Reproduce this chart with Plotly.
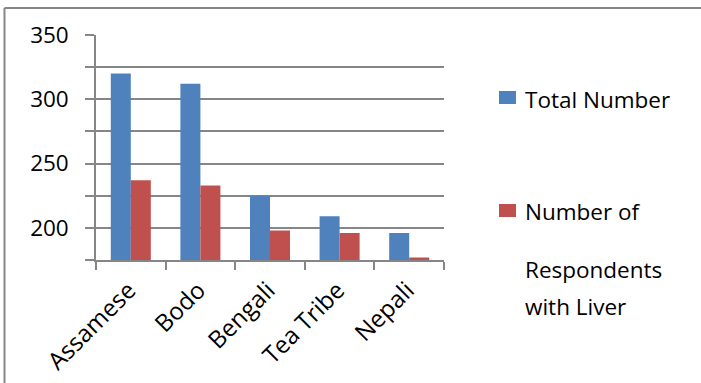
import plotly.graph_objects as go

# Survey groups and counts
groups = ["Assamese", "Bodo", "Bengali", "Tea Tribe", "Nepali"]
total_number = [320, 312, 225, 209, 196]
liver_respondents = [237, 233, 198, 196, 177]

series_names = ["Total Number", "Number of Respondents with Liver"]
series_colors = ["#4F81BD", "#C0504D"]

y_ticks = [175, 200, 225, 250, 275, 300, 325, 350]
y_tick_text = ["", "200", "", "250", "", "300", "", "350"]

W, H = 701, 383
L, R, T, B = 96, 257, 35, 123
PW, PH = W - L - R, H - T - B
GRID = "#868686"
FONT = "Open Sans"
FS = 22.5


def px(x, y):
    """Pixel position on the page -> paper coordinates."""
    return (x - L) / PW, (H - B - y) / PH


fig = go.Figure()
for name, vals, col in zip(series_names, [total_number, liver_respondents], series_colors):
    fig.add_trace(go.Bar(x=groups, y=vals, name=name, marker_color=col,
                         marker_line_width=0, showlegend=False))

fig.update_layout(
    width=W, height=H,
    margin=dict(l=L, r=R, t=T, b=B),
    paper_bgcolor="white", plot_bgcolor="white",
    barmode="group", bargap=0.425, bargroupgap=0,
    font=dict(family=FONT, size=FS, color="#000000"),
    xaxis=dict(
        type="category", tickangle=-45, tickson="boundaries",
        ticks="outside", ticklen=8, tickwidth=1.5, tickcolor=GRID,
        showline=True, linecolor=GRID, linewidth=1.5,
        showgrid=False, tickfont=dict(size=24), automargin=False,
        ticklabelshift=-2, ticklabelstandoff=5,
    ),
    yaxis=dict(
        range=[175, 350], tickmode="array", tickvals=y_ticks, ticktext=y_tick_text,
        ticks="outside", ticklen=9, tickwidth=1.5, tickcolor=GRID,
        showgrid=True, gridcolor=GRID, gridwidth=1.5,
        showline=True, linecolor=GRID, linewidth=1.5, automargin=False,
        zeroline=False, tickfont=dict(size=FS), ticklabelstandoff=12,
    ),
)

# Outer chart frame (top and left edges)
x0, y0 = px(4.5, 8)
x1, _ = px(W + 5, 8)
_, yb = px(4.5, H + 5)
fig.add_shape(type="line", xref="paper", yref="paper", x0=x0, y0=y0, x1=x1, y1=y0,
              line=dict(color=GRID, width=2))
fig.add_shape(type="line", xref="paper", yref="paper", x0=x0, y0=y0, x1=x0, y1=yb,
              line=dict(color=GRID, width=2))

# Legend: colour swatches and labels
swatches = [(499, 91, 516, 104), (499, 204, 516, 217)]
for (a, b, c, d), col in zip(swatches, series_colors):
    xa, ya = px(a, b)
    xc, yc = px(c, d)
    fig.add_shape(type="rect", xref="paper", yref="paper", x0=xa, y0=yc, x1=xc, y1=ya,
                  fillcolor=col, line_width=0)

legend_lines = [("Total Number", 99), ("Number of", 211),
                ("Respondents", 269), ("with Liver", 306)]
for text, yc in legend_lines:
    ax, ay = px(523, yc)
    fig.add_annotation(text=text, xref="paper", yref="paper", x=ax, y=ay,
                       xanchor="left", yanchor="middle", showarrow=False,
                       font=dict(family=FONT, size=FS, color="#000000"))

fig.write_html("out.html")
